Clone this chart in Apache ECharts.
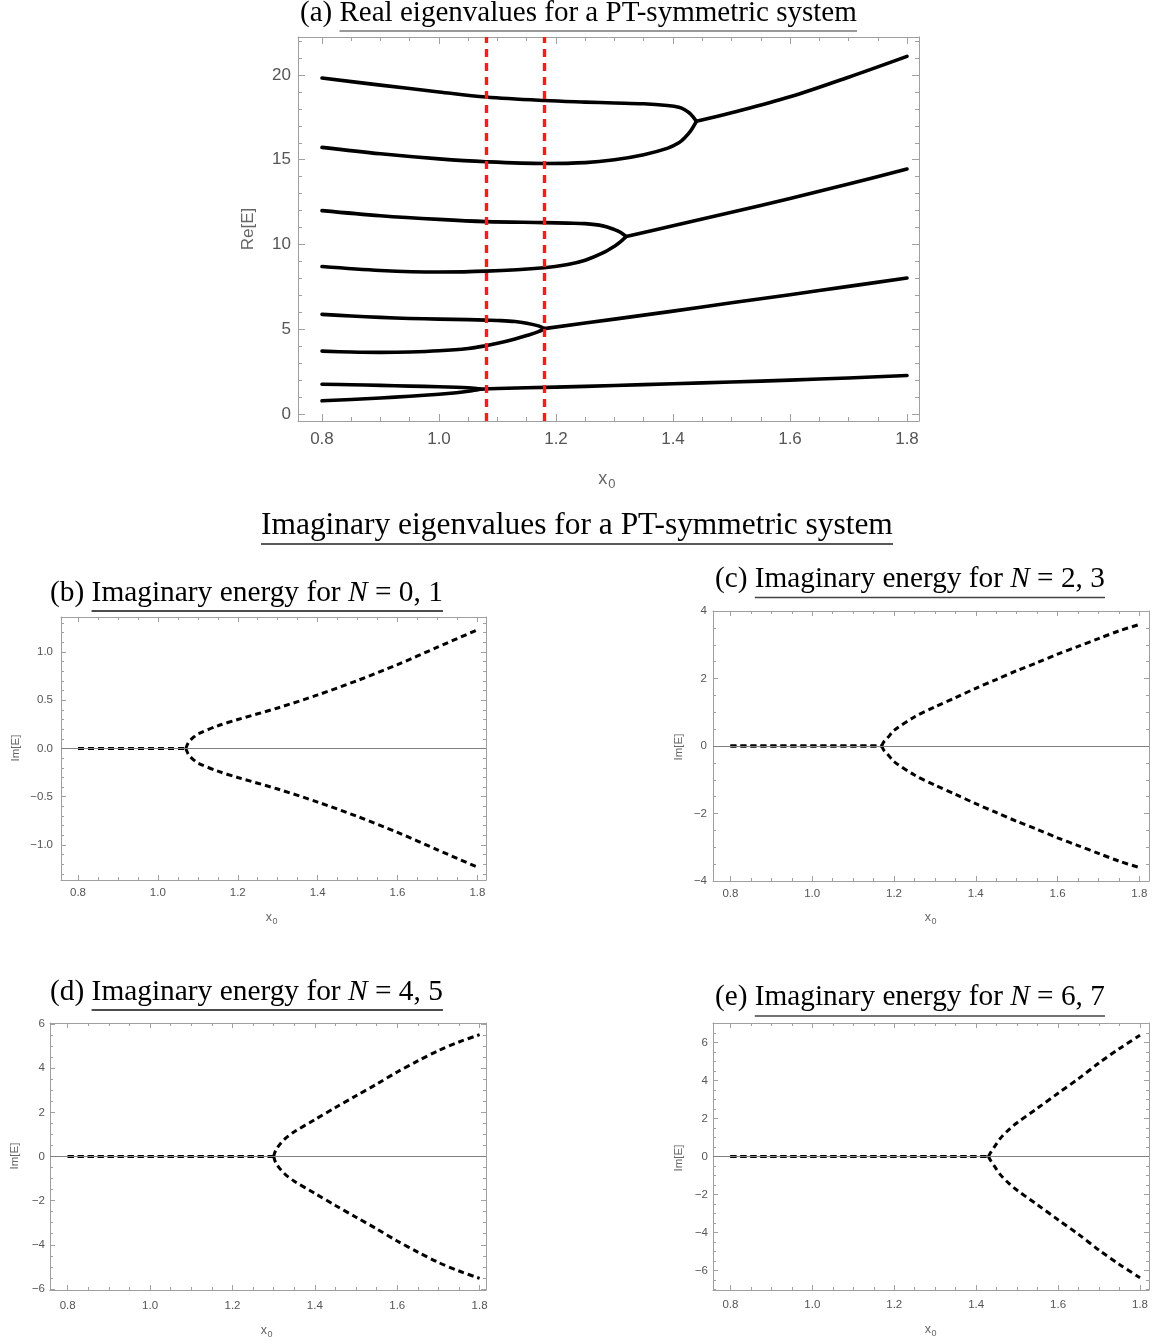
<!DOCTYPE html>
<html><head><meta charset="utf-8">
<script src="https://cdn.jsdelivr.net/npm/echarts@6/dist/echarts.min.js"></script>
<style>html,body{margin:0;padding:0;background:#fff}#c{width:1160px;height:1344px}</style>
</head><body><div id="c"></div>
<script>
// ---------- Panel (a): real parts of the eigenvalues ----------
const xPair01   = [0.8, 0.85, 0.9, 0.95, 1.0, 1.03, 1.05, 1.06, 1.07];
const reN0      = [0.78, 0.86, 0.95, 1.05, 1.17, 1.26, 1.34, 1.4, 1.47];
const reN1      = [1.76, 1.73, 1.69, 1.65, 1.61, 1.58, 1.55, 1.52, 1.47];
const xMerged01 = [1.07, 1.1, 1.2, 1.3, 1.4, 1.5, 1.6, 1.7, 1.8];
const reN01     = [1.47, 1.51, 1.59, 1.68, 1.79, 1.89, 2.0, 2.13, 2.27];

const xPair23   = [0.8, 0.85, 0.9, 0.95, 1.0, 1.05, 1.08, 1.1, 1.13, 1.15, 1.17, 1.18];
const reN2      = [3.71, 3.66, 3.64, 3.66, 3.73, 3.87, 4.03, 4.17, 4.43, 4.63, 4.86, 5.04];
const reN3      = [5.88, 5.78, 5.7, 5.64, 5.6, 5.57, 5.54, 5.52, 5.46, 5.36, 5.2, 5.04];
const xMerged23 = [1.18, 1.3, 1.4, 1.5, 1.6, 1.7, 1.8];
const reN23     = [5.04, 5.6, 6.07, 6.56, 7.04, 7.53, 8.02];

const xPair45   = [0.8, 0.9, 1.0, 1.08, 1.18, 1.22, 1.25, 1.28, 1.3, 1.31, 1.32];
const reN4      = [8.7, 8.47, 8.38, 8.43, 8.63, 8.82, 9.07, 9.5, 9.9, 10.15, 10.47];
const reN5      = [12.0, 11.7, 11.48, 11.35, 11.29, 11.26, 11.23, 11.1, 10.88, 10.72, 10.47];
const xMerged45 = [1.32, 1.4, 1.5, 1.6, 1.7, 1.8];
const reN45     = [10.47, 11.1, 11.9, 12.72, 13.57, 14.45];

const xPair67   = [0.8, 0.9, 1.0, 1.08, 1.18, 1.25, 1.3, 1.35, 1.39, 1.41, 1.42, 1.43, 1.44];
const reN6      = [15.73, 15.35, 15.05, 14.88, 14.78, 14.83, 15.0, 15.3, 15.67, 16.0, 16.3, 16.7, 17.27];
const reN7      = [19.82, 19.4, 19.0, 18.7, 18.49, 18.4, 18.35, 18.3, 18.2, 18.1, 17.95, 17.7, 17.27];
const xMerged67 = [1.44, 1.5, 1.6, 1.7, 1.8];
const reN67     = [17.27, 17.77, 18.71, 19.87, 21.1];

const criticalX = [1.082, 1.18];

// ---------- Panels (b)-(e): imaginary parts (first two points = flat zero part) ----------
const xIm01  = [0.8, 1.07, 1.075, 1.08, 1.09, 1.1, 1.15, 1.2, 1.3, 1.4, 1.5, 1.6, 1.7, 1.8];
const imN01u = [0, 0, 0.05, 0.08, 0.12, 0.15, 0.235, 0.3, 0.42, 0.555, 0.705, 0.87, 1.05, 1.23];
const imN01d = [0, 0, -0.05, -0.08, -0.12, -0.15, -0.235, -0.3, -0.42, -0.555, -0.705, -0.87, -1.05, -1.23];

const xIm23  = [0.8, 1.17, 1.175, 1.185, 1.2, 1.25, 1.3, 1.35, 1.4, 1.45, 1.5, 1.55, 1.6, 1.65, 1.7, 1.75, 1.8];
const imN23u = [0, 0, 0.12, 0.25, 0.46, 0.86, 1.16, 1.43, 1.71, 1.97, 2.23, 2.47, 2.72, 2.95, 3.18, 3.41, 3.6];
const imN23d = [0, 0, -0.12, -0.25, -0.46, -0.86, -1.16, -1.43, -1.71, -1.97, -2.23, -2.47, -2.72, -2.95, -3.18, -3.41, -3.6];

const xIm45  = [0.8, 1.3, 1.305, 1.315, 1.33, 1.35, 1.4, 1.45, 1.5, 1.55, 1.6, 1.65, 1.7, 1.75, 1.8];
const imN45u = [0, 0, 0.28, 0.55, 0.84, 1.12, 1.67, 2.22, 2.75, 3.28, 3.83, 4.33, 4.8, 5.19, 5.52];
const imN45d = [0, 0, -0.28, -0.55, -0.84, -1.12, -1.67, -2.22, -2.75, -3.28, -3.83, -4.33, -4.8, -5.19, -5.52];

const xIm67  = [0.8, 1.43, 1.435, 1.445, 1.46, 1.48, 1.5, 1.55, 1.6, 1.65, 1.7, 1.75, 1.8];
const imN67u = [0, 0, 0.2, 0.52, 0.98, 1.42, 1.78, 2.55, 3.33, 4.1, 4.93, 5.69, 6.38];
const imN67d = [0, 0, -0.2, -0.52, -0.98, -1.42, -1.78, -2.55, -3.33, -4.1, -4.93, -5.69, -6.38];

// ---------- tick labels ----------
const xTickVals  = [0.8, 1.0, 1.2, 1.4, 1.6, 1.8];
const yTicksA    = [0, 5, 10, 15, 20];
const yTicksB    = [-1.0, -0.5, 0, 0.5, 1.0];
const yTicksC    = [-4, -2, 0, 2, 4];
const yTicksD    = [-6, -4, -2, 0, 2, 4, 6];
const yTicksE    = [-6, -4, -2, 0, 2, 4, 6];

// ---------- helpers ----------
const FRAME = '#a0a0a0', LBL = '#555', SANS = '"Liberation Sans", Arial, sans-serif';
function pairs(xs, ys) { return xs.map((x, i) => [x, ys[i]]); }
function steps(a, b, s, exclude) {
  const out = [];
  for (let k = Math.ceil(a / s - 1e-9); k * s <= b + 1e-9; k++) {
    const v = +(k * s).toFixed(6);
    if (!exclude.some(e => Math.abs(e - v) < 1e-9)) out.push(v);
  }
  return out;
}
const minusFmt = d => v => (v < -1e-9 ? '\u2212' : '') + Math.abs(v).toFixed(d);

const grids = [], xAxes = [], yAxes = [], series = [], graphics = [];
function addPanel(p) {
  const g = grids.length;
  grids.push({left: p.box[0], top: p.box[1], width: p.box[2], height: p.box[3], containLabel: false});
  const xMinor = steps(p.xr[0], p.xr[1], p.xMinorStep, p.xMajor);
  const yMinor = steps(p.yr[0], p.yr[1], p.yMinorStep, p.yMajor);
  const xi = xAxes.length, yi = yAxes.length;
  ['bottom', 'top'].forEach((pos, k) => {
    xAxes.push({gridIndex: g, type: 'value', min: p.xr[0], max: p.xr[1], position: pos,
      axisLine: {show: true, onZero: false, lineStyle: {color: FRAME, width: 1}},
      axisTick: {show: true, inside: true, length: p.majLen, customValues: p.xMajor, lineStyle: {color: FRAME}},
      axisLabel: {show: k === 0, customValues: p.xMajor, formatter: v => v.toFixed(1), color: LBL,
                  fontSize: p.fs, fontFamily: SANS, margin: p.xMargin},
      splitLine: {show: false}});
    xAxes.push({gridIndex: g, type: 'value', min: p.xr[0], max: p.xr[1], position: pos,
      axisLine: {show: false, onZero: false},
      axisTick: {show: true, inside: true, length: p.minLen, customValues: xMinor, lineStyle: {color: FRAME}},
      axisLabel: {show: false}, splitLine: {show: false}});
  });
  ['left', 'right'].forEach((pos, k) => {
    yAxes.push({gridIndex: g, type: 'value', min: p.yr[0], max: p.yr[1], position: pos,
      axisLine: {show: true, onZero: false, lineStyle: {color: FRAME, width: 1}},
      axisTick: {show: true, inside: true, length: p.majLen, customValues: p.yMajor, lineStyle: {color: FRAME}},
      axisLabel: {show: k === 0, customValues: p.yMajor, formatter: p.yFmt, color: LBL,
                  fontSize: p.fs, fontFamily: SANS, margin: p.yMargin},
      splitLine: {show: false}});
    yAxes.push({gridIndex: g, type: 'value', min: p.yr[0], max: p.yr[1], position: pos,
      axisLine: {show: false, onZero: false},
      axisTick: {show: true, inside: true, length: p.minLen, customValues: yMinor, lineStyle: {color: FRAME}},
      axisLabel: {show: false}, splitLine: {show: false}});
  });
  return {x: xi, y: yi};
}

// ---------- panel (a) ----------
const A = addPanel({box: [298, 37, 621, 384], xr: [0.759, 1.8205], yr: [-0.41, 22.24],
  xMajor: xTickVals, xMinorStep: 0.05, yMajor: yTicksA, yMinorStep: 1,
  yFmt: v => String(v), fs: 17, majLen: 7, minLen: 4, xMargin: 10, yMargin: 7});
[[xPair01, reN0], [xPair01, reN1], [xMerged01, reN01],
 [xPair23, reN2], [xPair23, reN3], [xMerged23, reN23],
 [xPair45, reN4], [xPair45, reN5], [xMerged45, reN45],
 [xPair67, reN6], [xPair67, reN7], [xMerged67, reN67]].forEach(([xs, ys]) => {
  series.push({type: 'line', xAxisIndex: A.x, yAxisIndex: A.y, data: pairs(xs, ys),
    symbol: 'none', smooth: 0.35, silent: true, z: 3,
    lineStyle: {color: '#000', width: 3.6, cap: 'round', join: 'round'}});
});
series.push({type: 'line', xAxisIndex: A.x, yAxisIndex: A.y, data: [], symbol: 'none', z: 6, silent: true,
  markLine: {symbol: 'none', silent: true, animation: false, label: {show: false},
    lineStyle: {color: '#ff1a1a', width: 3.4, type: [8, 6]},
    data: criticalX.map(v => ({xAxis: v}))}});

// ---------- panels (b)-(e) ----------
const imPanels = [
  {box: [61, 617, 425, 263], xr: [0.7575, 1.8215], yr: [-1.363, 1.363], yMajor: yTicksB, yMinorStep: 0.1,
   yFmt: minusFmt(1), xMargin: 7, yMargin: 8, xs: xIm01, up: imN01u, dn: imN01d},
  {box: [713, 611, 436, 270], xr: [0.7574, 1.8237], yr: [-4, 4], yMajor: yTicksC, yMinorStep: 0.5,
   yFmt: minusFmt(0), xMargin: 7, yMargin: 6, xs: xIm23, up: imN23u, dn: imN23d},
  {box: [50, 1023, 436, 267], xr: [0.757, 1.8155], yr: [-6.05, 6.05], yMajor: yTicksD, yMinorStep: 0.5,
   yFmt: minusFmt(0), xMargin: 10, yMargin: 5, xs: xIm45, up: imN45u, dn: imN45d},
  {box: [713, 1023, 436, 267], xr: [0.7575, 1.822], yr: [-7.03, 7.03], yMajor: yTicksE, yMinorStep: 0.5,
   yFmt: minusFmt(0), xMargin: 9, yMargin: 5, xs: xIm67, up: imN67u, dn: imN67d}
];
const dashStyle = {color: '#000', width: 3, type: [6, 4], cap: 'butt'};
imPanels.forEach(p => {
  const ax = addPanel(Object.assign({xMajor: xTickVals, xMinorStep: 0.05, fs: 11.5, majLen: 5, minLen: 3}, p));
  series.push({type: 'line', xAxisIndex: ax.x, yAxisIndex: ax.y, data: [], symbol: 'none', z: 2, silent: true,
    markLine: {symbol: 'none', silent: true, animation: false, label: {show: false},
      lineStyle: {color: '#808080', width: 1, type: 'solid'}, data: [{yAxis: 0}]}});
  [p.up, p.dn].forEach(ys => {
    const all = pairs(p.xs, ys);
    // flat (real-spectrum) part
    series.push({type: 'line', xAxisIndex: ax.x, yAxisIndex: ax.y, data: all.slice(0, 2),
      symbol: 'none', silent: true, z: 3, lineStyle: dashStyle});
    // branch after the exceptional point
    series.push({type: 'line', xAxisIndex: ax.x, yAxisIndex: ax.y, data: all.slice(1),
      symbol: 'none', smooth: 0.3, silent: true, z: 3, lineStyle: dashStyle});
  });
});

// ---------- text: titles, axis names ----------
const mctx = document.createElement('canvas').getContext('2d');
const serif = (s, it) => (it ? 'italic ' : '') + s + 'px "Liberation Serif", "DejaVu Serif", serif';
function tw(t, s, it) { mctx.font = serif(s, it); return mctx.measureText(t).width; }
function addTitle(prefix, parts, left, right, baseline, lineY, lineColor) {
  const all = [{t: prefix, it: false}].concat(parts);
  const base = 20;
  const total = all.reduce((s, q) => s + tw(q.t, base, q.it), 0);
  const size = base * (right - left) / total;
  const cy = baseline - 0.34 * size;
  let x = left, ul = left;
  all.forEach((q, i) => {
    if (i === 1) ul = x;
    if (q.t) graphics.push({type: 'text', x: x, y: cy, silent: true,
      style: {text: q.t, font: serif(size, q.it), fill: '#000', align: 'left', verticalAlign: 'middle',
              textAlign: 'left', textVerticalAlign: 'middle'}});
    x += tw(q.t, size, q.it);
  });
  graphics.push({type: 'line', silent: true, shape: {x1: ul, y1: lineY, x2: right, y2: lineY},
    style: {stroke: lineColor, lineWidth: 1.5}});
}
addTitle('(a) ', [{t: 'Real eigenvalues for a PT-symmetric system'}], 300, 857, 23, 31, '#777');
addTitle('', [{t: 'Imaginary eigenvalues for a PT-symmetric system'}], 261, 893, 536, 544, '#222');
addTitle('(b) ', [{t: 'Imaginary energy for '}, {t: 'N', it: true}, {t: ' = 0, 1'}], 50, 443, 603, 611, '#111');
addTitle('(c) ', [{t: 'Imaginary energy for '}, {t: 'N', it: true}, {t: ' = 2, 3'}], 715, 1105, 589, 597.5, '#444');
addTitle('(d) ', [{t: 'Imaginary energy for '}, {t: 'N', it: true}, {t: ' = 4, 5'}], 50, 443, 1002, 1010, '#111');
addTitle('(e) ', [{t: 'Imaginary energy for '}, {t: 'N', it: true}, {t: ' = 6, 7'}], 715, 1105, 1007.5, 1016, '#444');

function sansText(t, x, y, size, rot) {
  graphics.push({type: 'text', x: x, y: y, rotation: rot || 0, silent: true,
    style: {text: t, font: size + 'px ' + SANS, fill: '#666', align: 'center', verticalAlign: 'middle',
            textAlign: 'center', textVerticalAlign: 'middle'}});
}
function xName(cx, cy, size) {
  sansText('x', cx - size * 0.18, cy, size);
  sansText('0', cx + size * 0.32, cy + size * 0.3, size * 0.72);
}
sansText('Re[E]', 248, 229, 17, Math.PI / 2);
xName(606, 479, 18);
[[16, 748], [679, 747], [15, 1156], [679, 1158]].forEach(([x, y]) => sansText('Im[E]', x, y, 11.5, Math.PI / 2));
[[271, 918], [930, 918], [266, 1331], [930, 1330]].forEach(([x, y]) => xName(x, y, 12.5));

const chart = echarts.init(document.getElementById('c'), null, {renderer: 'canvas'});
chart.setOption({
  animation: false,
  backgroundColor: '#fff',
  grid: grids, xAxis: xAxes, yAxis: yAxes, series: series, graphic: graphics
});
</script></body></html>
